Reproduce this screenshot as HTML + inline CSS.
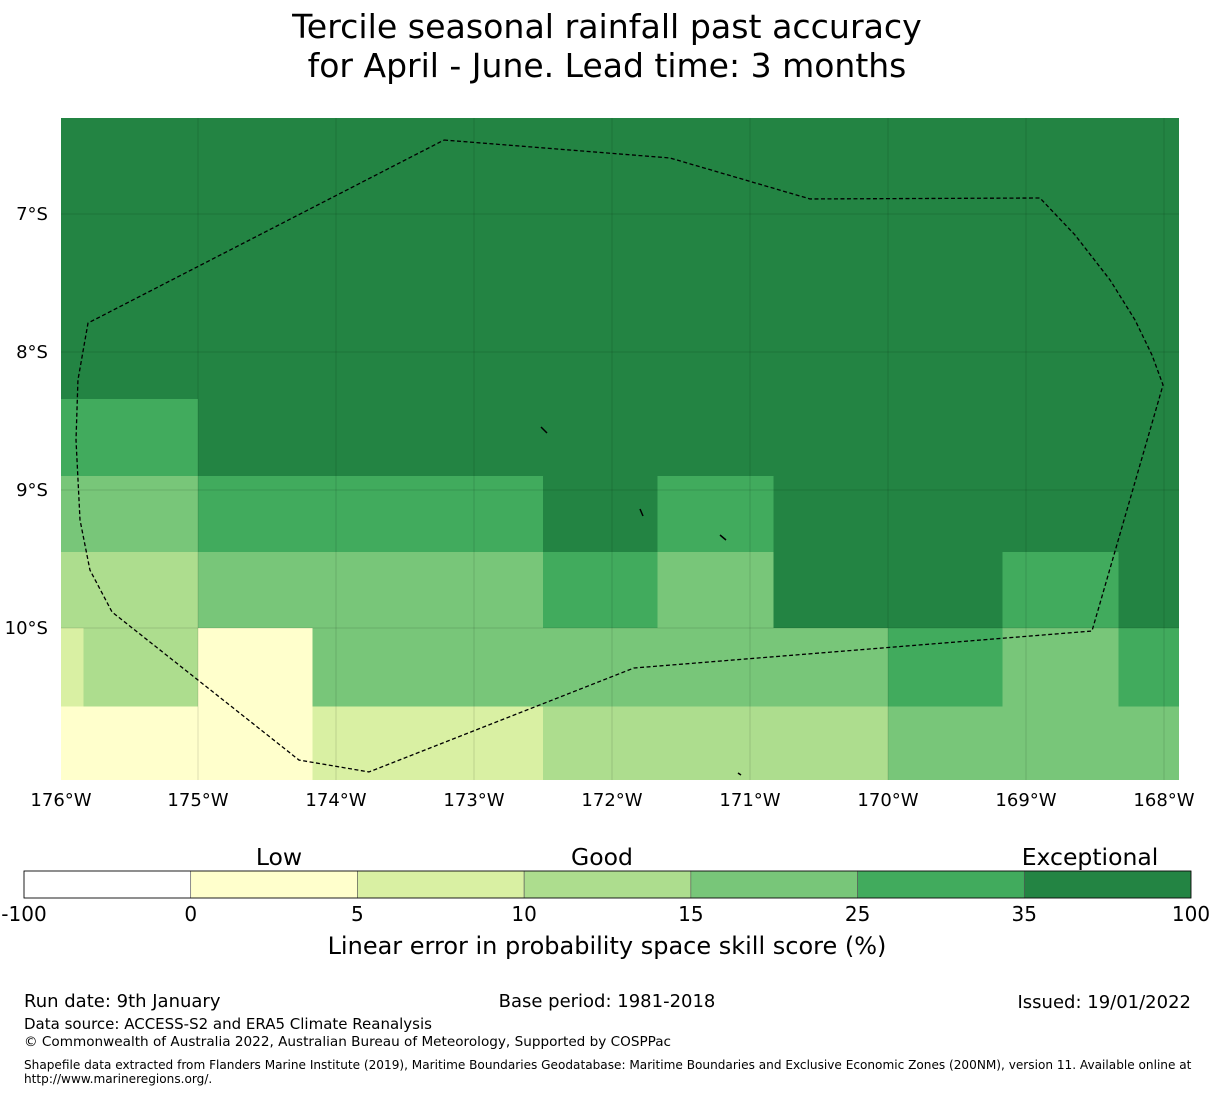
<!DOCTYPE html>
<html><head><meta charset="utf-8">
<style>
body{margin:0;background:#fff;width:1215px;height:1095px;overflow:hidden;font-family:"Liberation Sans","DejaVu Sans",sans-serif;}
svg text{font-family:"DejaVu Sans","Liberation Sans",sans-serif;}
</style></head>
<body>
<svg id="chart" width="1215" height="1095" xmlns="http://www.w3.org/2000/svg">
<text x="607" y="38" font-size="33.2" text-anchor="middle">Tercile seasonal rainfall past accuracy</text>
<text x="607" y="77" font-size="33" text-anchor="middle">for April - June. Lead time: 3 months</text>
<g id="map"></g>
<g id="cbar"></g>
<text x="607" y="954" font-size="24" text-anchor="middle">Linear error in probability space skill score (%)</text>
<text x="24" y="1007" font-size="18">Run date: 9th January</text>
<text x="607" y="1007" font-size="18" text-anchor="middle">Base period: 1981-2018</text>
<text x="1191" y="1008" font-size="18" text-anchor="end">Issued: 19/01/2022</text>
<text x="24" y="1029" font-size="15">Data source: ACCESS-S2 and ERA5 Climate Reanalysis</text>
<text x="24" y="1046" font-size="13.6">© Commonwealth of Australia 2022, Australian Bureau of Meteorology, Supported by COSPPac</text>
<text x="24" y="1069" font-size="12.1">Shapefile data extracted from Flanders Marine Institute (2019), Maritime Boundaries Geodatabase: Maritime Boundaries and Exclusive Economic Zones (200NM), version 11. Available online at</text>
<text x="24" y="1083" font-size="12.1">http://www.marineregions.org/.</text>
</svg>
<script>
// colour scale
const bounds = [-100, 0, 5, 10, 15, 25, 35, 100];
const colors = ['#ffffff','#ffffcc','#d9f0a3','#addd8e','#78c679','#41ab5d','#238443'];
const classNames = ['Low','Good','Exceptional'];
// grid cells: lon0, lon1, lat0(north, negative), lat1, skill value
const cellLon0 = [-176,-176,-175,-176,-175,-172.5,-171.67,-170.83,-176,-175,-172.5,-171.67,-170.83,-169.17,-168.33,-176,-175.83,-175,-174.17,-170,-169.17,-168.33,-176,-174.17,-172.5,-170];
const cellLon1 = [-167.89,-175,-167.89,-175,-172.5,-171.67,-170.83,-167.89,-175,-172.5,-171.67,-170.83,-169.17,-168.33,-167.89,-175.83,-175,-174.17,-170,-169.17,-168.33,-167.89,-174.17,-172.5,-170,-167.89];
const cellLat0 = [-6.3,-8.34,-8.34,-8.9,-8.9,-8.9,-8.9,-8.9,-9.45,-9.45,-9.45,-9.45,-9.45,-9.45,-9.45,-10,-10,-10,-10,-10,-10,-10,-10.57,-10.57,-10.57,-10.57];
const cellLat1 = [-8.34,-8.9,-8.9,-9.45,-9.45,-9.45,-9.45,-9.45,-10,-10,-10,-10,-10,-10,-10,-10.57,-10.57,-10.57,-10.57,-10.57,-10.57,-10.57,-11.1,-11.1,-11.1,-11.1];
const cellVal = [50,30,50,20,30,50,30,50,12,20,30,20,50,30,50,7,12,3,20,30,20,30,3,7,12,20];
// EEZ boundary (lon, lat)
const eezLon = [-173.217,-171.58,-170.565,-168.899,-168.645,-168.391,-168.21,-168.087,-168.007,-168.522,-171.841,-173.761,-174.268,-175.623,-175.783,-175.855,-175.884,-175.87,-175.797,-173.217];
const eezLat = [-6.464,-6.594,-6.891,-6.884,-7.152,-7.478,-7.768,-8.022,-8.239,-10.022,-10.29,-11.043,-10.957,-9.884,-9.58,-9.217,-8.638,-8.203,-7.79,-6.464];
const lonTicks = [-176,-175,-174,-173,-172,-171,-170,-169,-168];
const latTicks = [-7,-8,-9,-10];

const NS='http://www.w3.org/2000/svg';
const X0=60, PPD=138, Y7=214;
const xs = lon => X0 + (lon+176)*PPD;
const ys = lat => Y7 + (-7-lat)*PPD;
const colorFor = v => { for(let i=0;i<colors.length;i++){ if(v<bounds[i+1]) return colors[i]; } return colors[colors.length-1]; };
function mk(tag, attrs, parent){ const e=document.createElementNS(NS,tag); for(const k in attrs) e.setAttribute(k,attrs[k]); parent.appendChild(e); return e; }

const map=document.getElementById('map');
const L=61,R=1179,T=118,B=780;
for(let i=0;i<cellVal.length;i++){
  const x0=Math.max(L,xs(cellLon0[i])), x1=Math.min(R,xs(cellLon1[i]));
  const y0=Math.max(T,ys(cellLat0[i])), y1=Math.min(B,ys(cellLat1[i]));
  const r=mk('rect',{x:x0,y:y0,width:x1-x0,height:y1-y0,fill:colorFor(cellVal[i]),'shape-rendering':'crispEdges'},map);
  
  
}
lonTicks.forEach(l=>{
  const x=xs(l);
  if(x>=L && x<=R){ const g=mk('line',{x1:x,x2:x,y1:T,y2:B,stroke:'#000','stroke-opacity':0.25,'stroke-width':0.5},map);
      }
  const t=mk('text',{x:Math.max(x,61),y:806,'font-size':18,'text-anchor':'middle'},map);
  t.textContent=Math.abs(l)+'°W';
   
});
latTicks.forEach(l=>{
  const y=ys(l);
  const g=mk('line',{x1:L,x2:R,y1:y,y2:y,stroke:'#000','stroke-opacity':0.25,'stroke-width':0.5},map);
   
  const t=mk('text',{x:48,y:y+6,'font-size':18,'text-anchor':'end'},map);
  t.textContent=Math.abs(l)+'°S';
   
});
const pts=eezLon.map((lo,i)=>xs(lo)+','+ys(eezLat[i])).join(' ');
const eez=mk('polyline',{points:pts,fill:'none',stroke:'#000','stroke-width':1.3,'stroke-dasharray':'4,2.5','stroke-linejoin':'round'},map);
 
[[541,427,547,433],[640,509,643,516],[720,535,726,540],[738,773,741,775]].forEach(p=>{
  const s=mk('line',{x1:p[0],y1:p[1],x2:p[2],y2:p[3],stroke:'#000','stroke-width':1.5},map);
   
});

// colorbar
const cb=document.getElementById('cbar');
const CL=24, CR=1191, CT=871, CB=898, n=colors.length, w=(CR-CL)/n;
colors.forEach((c,i)=>{
  const r=mk('rect',{x:CL+i*w,y:CT,width:w,height:CB-CT,fill:c,stroke:'#555','stroke-width':0.6},cb);
   
});
mk('rect',{x:CL,y:CT,width:CR-CL,height:CB-CT,fill:'none',stroke:'#000','stroke-width':0.8},cb);
bounds.forEach((b,i)=>{
  const t=mk('text',{x:CL+i*w,y:921,'font-size':20,'text-anchor':'middle'},cb);
  t.textContent=b;
   
});
const classX=[279,602,1090];
classNames.forEach((c,i)=>{
  const t=mk('text',{x:classX[i],y:865,'font-size':23.5,'text-anchor':'middle'},cb);
  t.textContent=c;
   
});
</script>
</body></html>
